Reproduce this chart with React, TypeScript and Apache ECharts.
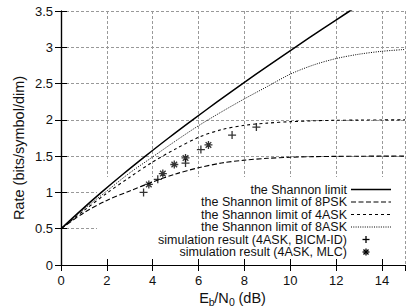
import React, { useEffect, useRef } from "react";
import * as echarts from "echarts";

// Eb/N0 grid (dB) for the constellation-constrained limits
const ebn0Grid = [0, 1, 2, 3, 4, 5, 6, 7, 8, 9, 10, 11, 12, 13, 14, 15];
// Shannon limit: Eb/N0 (dB) needed for a given rate (bits/symbol/dim)
const shannonEbN0 = [0, 0.86, 1.76, 2.7, 3.68, 4.69, 5.74, 6.82, 7.92, 9.06, 10.21, 11.39, 12.59, 13.07];
const shannonRate = [0.5, 0.75, 1.0, 1.25, 1.5, 1.75, 2.0, 2.25, 2.5, 2.75, 3.0, 3.25, 3.5, 3.6];
// limits of the modulations, read at ebn0Grid
const psk8Rate = [0.5, 0.72, 0.89, 1.02, 1.145, 1.255, 1.34, 1.405, 1.445, 1.47, 1.485, 1.493, 1.497, 1.499, 1.5, 1.5];
const ask4Rate = [0.5, 0.75, 0.99, 1.21, 1.42, 1.6, 1.76, 1.865, 1.925, 1.955, 1.975, 1.987, 1.994, 1.997, 1.999, 2.0];
const ask8Rate = [0.5, 0.77, 1.02, 1.27, 1.49, 1.71, 1.92, 2.11, 2.29, 2.46, 2.63, 2.755, 2.845, 2.905, 2.945, 2.97];
// simulation results
const bicmEbN0 = [3.6, 4.22, 5.43, 6.1, 7.46, 8.52];
const bicmRate = [1.0, 1.18, 1.405, 1.59, 1.79, 1.9];
const mlcEbN0 = [3.83, 4.44, 4.94, 5.43, 6.43];
const mlcRate = [1.11, 1.26, 1.385, 1.475, 1.655];

const seriesNames = [
  "the Shannon limit",
  "the Shannon limit of 8PSK",
  "the Shannon limit of 4ASK",
  "the Shannon limit of 8ASK",
  "simulation result (4ASK, BICM-ID)",
  "simulation result (4ASK, MLC)",
];

const FONT = "Liberation Sans, Arial, Helvetica, sans-serif";
const PLUS = "path://M0,5 L10,5 M5,0 L5,10";
const STAR = "path://M0,5 L10,5 M5,0 L5,10 M1.5,1.5 L8.5,8.5 M8.5,1.5 L1.5,8.5";

const zip = (xs: number[], ys: number[]) => xs.map((x, i) => [x, ys[i]]);

export default function App() {
  const ref = useRef<HTMLDivElement>(null);
  useEffect(() => {
    if (!ref.current) return;
    const chart = echarts.init(ref.current, null, { renderer: "svg" });
    const lineDashes: any[] = ["solid", [5, 2.5], [3, 3], [1, 1.3]];
    const lineWidths = [1.5, 1.1, 1.1, 1];
    const curves = [
      zip(shannonEbN0, shannonRate),
      zip(ebn0Grid, psk8Rate),
      zip(ebn0Grid, ask4Rate),
      zip(ebn0Grid, ask8Rate),
    ];
    const lineSeries = curves.map((d, i) => ({
      name: seriesNames[i],
      type: "line",
      data: d,
      xAxisIndex: 0,
      yAxisIndex: 0,
      showSymbol: false,
      symbol: "none",
      smooth: 0.3,
      z: 2,
      lineStyle: { color: "#000", width: lineWidths[i], type: lineDashes[i] },
    }));
    const scatterSeries = [
      { name: seriesNames[4], data: zip(bicmEbN0, bicmRate), symbol: PLUS, size: 8 },
      { name: seriesNames[5], data: zip(mlcEbN0, mlcRate), symbol: STAR, size: 8 },
    ].map((s) => ({
      name: s.name,
      type: "scatter",
      data: s.data,
      xAxisIndex: 0,
      yAxisIndex: 0,
      symbol: s.symbol,
      symbolSize: s.size,
      z: 4,
      itemStyle: { color: "transparent", borderColor: "#000", borderWidth: 1.3 },
    }));

    const legendX = 347;
    const legendY0 = 189.5;
    const legendStep = 12.5;
    const legendEls: any[] = [];
    seriesNames.forEach((n, i) => {
      const y = legendY0 + legendStep * i;
      legendEls.push({
        type: "text",
        z: 10,
        x: legendX,
        y,
        style: { text: n, fontSize: 12.5, fontFamily: FONT, fill: "#111", align: "right", verticalAlign: "middle" },
      });
      if (i < 4) {
        legendEls.push({
          type: "line",
          z: 10,
          shape: { x1: 351, y1: y, x2: 391, y2: y },
          style: {
            stroke: "#000",
            lineWidth: lineWidths[i],
            lineDash: i === 0 ? null : lineDashes[i],
          },
        });
      } else {
        const cx = 366;
        const r = 3.5;
        const segs: number[][] = [
          [cx - r, y, cx + r, y],
          [cx, y - r, cx, y + r],
        ];
        if (i === 5) {
          const d = r * 0.72;
          segs.push([cx - d, y - d, cx + d, y + d]);
          segs.push([cx + d, y - d, cx - d, y + d]);
        }
        segs.forEach((s) =>
          legendEls.push({
            type: "line",
            z: 10,
            shape: { x1: s[0], y1: s[1], x2: s[2], y2: s[3] },
            style: { stroke: "#000", lineWidth: 1.3 },
          })
        );
      }
    });

    const axisCommon = { type: "value", min: 0 };
    const visibleAxisLine = { show: true, lineStyle: { color: "#000", width: 1.2 } };
    const inTicks = { show: true, inside: true, length: 6, lineStyle: { color: "#000", width: 1 } };
    const gridLine = { show: true, lineStyle: { color: "#999", width: 1, type: [3, 2] } };

    chart.setOption({
      animation: false,
      grid: { left: 61, top: 11, right: 1, bottom: 43, containLabel: false },
      xAxis: [
        {
          ...axisCommon, max: 15, interval: 2, position: "bottom", z: 3,
          axisLine: visibleAxisLine, axisTick: inTicks, splitLine: { show: false },
          axisLabel: { show: true, fontSize: 13, fontFamily: FONT, color: "#111", margin: 9, showMaxLabel: false,
            formatter: (v: number) => (v > 14 ? "" : String(v)) },
        },
        {
          ...axisCommon, max: 15, interval: 2, position: "top", z: 3,
          axisLine: visibleAxisLine, axisTick: inTicks, splitLine: { show: false }, axisLabel: { show: false },
        },
        {
          ...axisCommon, max: 15, interval: 2, position: "bottom", z: 0,
          axisLine: { show: false }, axisTick: { show: false }, axisLabel: { show: false }, splitLine: gridLine,
        },
      ],
      yAxis: [
        {
          ...axisCommon, max: 3.5, interval: 0.5, position: "left", z: 3,
          axisLine: visibleAxisLine, axisTick: inTicks, splitLine: { show: false },
          axisLabel: { show: true, fontSize: 13, fontFamily: FONT, color: "#111", margin: 8 },
        },
        {
          ...axisCommon, max: 3.5, interval: 0.5, position: "right", z: 3,
          axisLine: visibleAxisLine, axisTick: inTicks, splitLine: { show: false }, axisLabel: { show: false },
        },
        {
          ...axisCommon, max: 3.5, interval: 0.5, position: "left", z: 0,
          axisLine: { show: false }, axisTick: { show: false }, axisLabel: { show: false }, splitLine: gridLine,
        },
      ],
      series: [...lineSeries, ...scatterSeries],
      graphic: [
        {
          type: "rect",
          z: 1,
          shape: { x: 97, y: 177, width: 307, height: 87 },
          style: { fill: "#fff" },
          silent: true,
        },
        ...legendEls,
        {
          type: "text",
          z: 10,
          x: 19,
          y: 148,
          rotation: Math.PI / 2,
          style: { text: "Rate (bits/symbol/dim)", fontSize: 14.5, fontFamily: FONT, fill: "#111", align: "center", verticalAlign: "middle" },
        },
        { type: "text", z: 10, x: 199.3, y: 297.5, style: { text: "E", fontSize: 14.5, fontFamily: FONT, fill: "#111", align: "left", verticalAlign: "middle" } },
        { type: "text", z: 10, x: 208.8, y: 301.5, style: { text: "b", fontSize: 10.5, fontFamily: FONT, fill: "#111", align: "left", verticalAlign: "middle" } },
        { type: "text", z: 10, x: 214.2, y: 297.5, style: { text: "/N", fontSize: 14.5, fontFamily: FONT, fill: "#111", align: "left", verticalAlign: "middle" } },
        { type: "text", z: 10, x: 229, y: 301.5, style: { text: "0", fontSize: 10.5, fontFamily: FONT, fill: "#111", align: "left", verticalAlign: "middle" } },
        { type: "text", z: 10, x: 238.5, y: 297.5, style: { text: "(dB)", fontSize: 14.5, fontFamily: FONT, fill: "#111", align: "left", verticalAlign: "middle" } },
      ],
    });
    return () => chart.dispose();
  }, []);
  return (
    <div
      ref={ref}
      style={{ position: "absolute", left: 0, top: 0, width: 406, height: 308, background: "#fff" }}
    />
  );
}
